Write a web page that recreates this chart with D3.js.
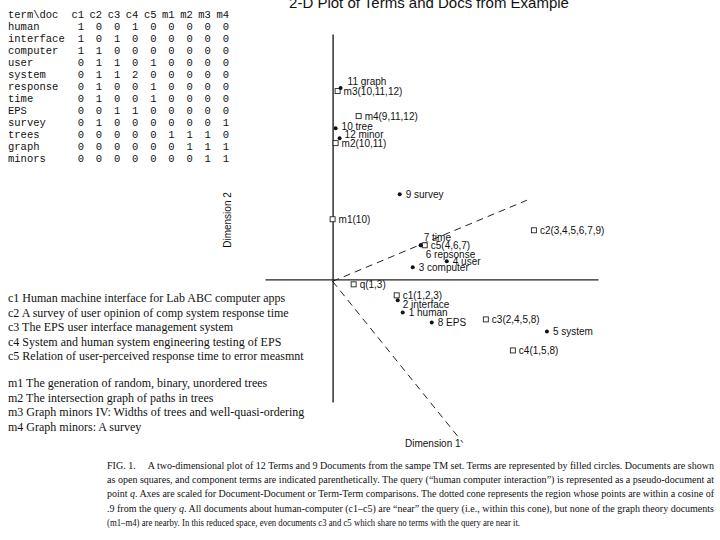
<!DOCTYPE html>
<html>
<head>
<meta charset="utf-8">
<script src="https://cdn.jsdelivr.net/npm/d3@7"></script>
<style>
  body { margin: 0; background: #fff; }
  svg text { fill: #111; }
</style>
</head>
<body>
<div id="chart"></div>
<script>
/**
 * DATA
 * */
// term by document table
const docs = ["c1", "c2", "c3", "c4", "c5", "m1", "m2", "m3", "m4"];
const terms = ["human", "interface", "computer", "user", "system", "response", "time", "EPS", "survey", "trees", "graph", "minors"];
const counts = [
  [1, 0, 0, 1, 0, 0, 0, 0, 0],
  [1, 0, 1, 0, 0, 0, 0, 0, 0],
  [1, 1, 0, 0, 0, 0, 0, 0, 0],
  [0, 1, 1, 0, 1, 0, 0, 0, 0],
  [0, 1, 1, 2, 0, 0, 0, 0, 0],
  [0, 1, 0, 0, 1, 0, 0, 0, 0],
  [0, 1, 0, 0, 1, 0, 0, 0, 0],
  [0, 0, 1, 1, 0, 0, 0, 0, 0],
  [0, 1, 0, 0, 0, 0, 0, 0, 1],
  [0, 0, 0, 0, 0, 1, 1, 1, 0],
  [0, 0, 0, 0, 0, 0, 1, 1, 1],
  [0, 0, 0, 0, 0, 0, 0, 1, 1]
];

// terms in the 2-D space (filled circles)
const termLabels = ["1 human", "2 interface", "3 computer", "4 user", "5 system", "6 repsonse", "7 time", "8 EPS", "9 survey", "10 tree", "11 graph", "12 minor"];
const termDim1 = [0.28, 0.26, 0.32, 0.456, 0.856, 0.352, 0.352, 0.396, 0.268, 0.012, 0.032, 0.028];
const termDim2 = [-0.132, -0.084, 0.048, 0.072, -0.208, 0.136, 0.136, -0.172, 0.34, 0.604, 0.764, 0.564];

// documents + query (open squares)
const docLabels = ["c1(1,2,3)", "c2(3,4,5,6,7,9)", "c3(2,4,5,8)", "c4(1,5,8)", "c5(4,6,7)", "m1(10)", "m2(10,11)", "m3(10,11,12)", "m4(9,11,12)", "q(1,3)"];
const docDim1 = [0.256, 0.804, 0.612, 0.72, 0.368, 0.0, 0.012, 0.02, 0.104, 0.084];
const docDim2 = [-0.064, 0.196, -0.16, -0.284, 0.136, 0.24, 0.544, 0.752, 0.652, -0.02];

// ends of the dotted cone around the query
const coneDim1 = [0.776, 0.52];
const coneDim2 = [0.316, -0.652];

const docTitles = [
  "c1 Human machine interface for Lab ABC computer apps",
  "c2 A survey of user opinion of comp system response time",
  "c3 The EPS user interface management system",
  "c4 System and human system engineering testing of EPS",
  "c5 Relation of user-perceived response time to error measmnt"
];
const mathTitles = [
  "m1 The generation of random, binary, unordered trees",
  "m2 The intersection graph of paths in trees",
  "m3 Graph minors IV: Widths of trees and well-quasi-ordering",
  "m4 Graph minors: A survey"
];

const captionLines = [
  ["FIG. 1.\u2003 A two-dimensional plot of 12 Terms and 9 Documents from the sampe TM set. Terms are represented by filled circles. Documents are shown"],
  ["as open squares, and component terms are indicated parenthetically. The query (\u201chuman computer interaction\u201d) is represented as a pseudo-document at"],
  ["point ", "q", ". Axes are scaled for Document-Document or Term-Term comparisons. The dotted cone represents the region whose points are within a cosine of"],
  [".9 from the query ", "q", ". All documents about human-computer (c1\u2013c5) are \u201cnear\u201d the query (i.e., within this cone), but none of the graph theory documents"],
  ["(m1\u2013m4) are nearby. In this reduced space, even documents c3 and c5 which share no terms with the query are near it."]
];

/**
 * LAYOUT
 * */
const width = 720, height = 540;
const labelFont = "'Liberation Sans', Arial, Helvetica, sans-serif";
// label placement tweaks [dx, dy] for crowded points
const termNudge = {
  "2 interface": [5, 7.5], "6 repsonse": [5, 12.5], "7 time": [3, -4.5],
  "10 tree": [6, 1.5], "11 graph": [7, -3.5], "12 minor": [5, -0.5]
};

const svg = d3.select("#chart").append("svg")
  .attr("width", width)
  .attr("height", height);

// SCALES
const xScale = d3.scaleLinear().domain([-0.27, 1.06]).range([265, 598]);
const yScale = d3.scaleLinear().domain([-0.49, 0.98]).range([402, 34]);

// title (cut off at the top like the scan)
svg.append("text")
  .attr("x", 429).attr("y", 8)
  .attr("text-anchor", "middle")
  .style("font", `15px ${labelFont}`)
  .text("2-D Plot of Terms and Docs from Example");

// AXES - just the domain lines crossing at the origin
svg.append("g")
  .attr("transform", `translate(0,${yScale(0)})`)
  .call(d3.axisBottom(xScale).tickValues([]).tickSizeOuter(0))
  .select(".domain").attr("stroke", "#222").attr("stroke-width", 1.2);

svg.append("g")
  .attr("transform", `translate(${xScale(0)},0)`)
  .call(d3.axisLeft(yScale).tickValues([]).tickSizeOuter(0))
  .select(".domain").attr("stroke", "#222").attr("stroke-width", 1.4);

svg.append("text")
  .attr("transform", `translate(231,220) rotate(-90)`)
  .attr("text-anchor", "middle")
  .style("font", `10px ${labelFont}`)
  .text("Dimension 2");

svg.append("text")
  .attr("x", 405).attr("y", 447)
  .style("font", `10px ${labelFont}`)
  .text("Dimension 1");

// dotted cone
svg.selectAll(".cone")
  .data(coneDim1.map((d, i) => ({ x: d, y: coneDim2[i] })))
  .join("line")
  .attr("class", "cone")
  .attr("x1", xScale(0)).attr("y1", yScale(0) + 2)
  .attr("x2", d => xScale(d.x)).attr("y2", d => yScale(d.y))
  .attr("stroke", "#222")
  .attr("stroke-width", 1)
  .attr("stroke-dasharray", "7,5");

// documents
const docData = docLabels.map((d, i) => ({ label: d, x: docDim1[i], y: docDim2[i] }));
svg.selectAll(".doc")
  .data(docData)
  .join("rect")
  .attr("class", "doc")
  .attr("x", d => xScale(d.x) - 2.5)
  .attr("y", d => yScale(d.y) - 2.5)
  .attr("width", 5).attr("height", 5)
  .attr("fill", "#fff")
  .attr("stroke", "#222")
  .attr("stroke-width", 0.9);

svg.selectAll(".doc-label")
  .data(docData)
  .join("text")
  .attr("class", "doc-label")
  .attr("x", d => xScale(d.x) + 6)
  .attr("y", d => yScale(d.y) + 3.5)
  .style("font", `10px ${labelFont}`)
  .text(d => d.label);

// terms
const termData = termLabels.map((d, i) => ({ label: d, x: termDim1[i], y: termDim2[i] }));
svg.selectAll(".term")
  .data(termData)
  .join("circle")
  .attr("class", "term")
  .attr("cx", d => xScale(d.x))
  .attr("cy", d => yScale(d.y))
  .attr("r", 2)
  .attr("fill", "#111");

svg.selectAll(".term-label")
  .data(termData)
  .join("text")
  .attr("class", "term-label")
  .attr("x", d => xScale(d.x) + (termNudge[d.label] || [6, 3.5])[0])
  .attr("y", d => yScale(d.y) + (termNudge[d.label] || [6, 3.5])[1])
  .style("font", `10px ${labelFont}`)
  .text(d => d.label);

// TABLE (top left)
const colX = d3.scalePoint().domain(docs).range([84, 229]);
const rowY = d3.scalePoint().domain(["term\\doc", ...terms]).range([17.5, 161.5]);
const table = svg.append("g").style("font", "10.5px 'Liberation Mono', 'Courier New', monospace");

table.append("text").attr("x", 8).attr("y", rowY("term\\doc")).text("term\\doc");
table.selectAll(".head")
  .data(docs)
  .join("text")
  .attr("x", d => colX(d)).attr("y", rowY("term\\doc"))
  .attr("text-anchor", "end")
  .text(d => d);

const rows = table.selectAll(".row")
  .data(terms)
  .join("g")
  .attr("transform", d => `translate(0,${rowY(d)})`);
rows.append("text").attr("x", 8).text(d => d);
rows.selectAll(".cell")
  .data((d, i) => counts[i].map((v, j) => ({ doc: docs[j], v })))
  .join("text")
  .attr("x", d => colX(d.doc))
  .attr("text-anchor", "end")
  .text(d => d.v);

// DOCUMENT TITLES
const serif = "'Liberation Serif', 'Times New Roman', serif";
svg.append("g")
  .selectAll("text")
  .data(docTitles)
  .join("text")
  .attr("x", 8)
  .attr("y", (d, i) => 302 + i * 14.5)
  .style("font", `12px ${serif}`)
  .text(d => d);

svg.append("g")
  .selectAll("text")
  .data(mathTitles)
  .join("text")
  .attr("x", 8)
  .attr("y", (d, i) => 387 + i * 14.5)
  .style("font", `12px ${serif}`)
  .text(d => d);

// CAPTION - justified lines
const cap = svg.append("g").style("font", `10px ${serif}`);
captionLines.forEach((parts, i) => {
  const t = cap.append("text")
    .attr("x", 107)
    .attr("y", 469 + i * 14.2)
    .attr("textLength", i < 4 ? 607 : 413)
    .attr("lengthAdjust", "spacingAndGlyphs");
  parts.forEach(p => {
    t.append("tspan")
      .style("font-style", p === "q" ? "italic" : "normal")
      .text(p);
  });
});
</script>
</body>
</html>
